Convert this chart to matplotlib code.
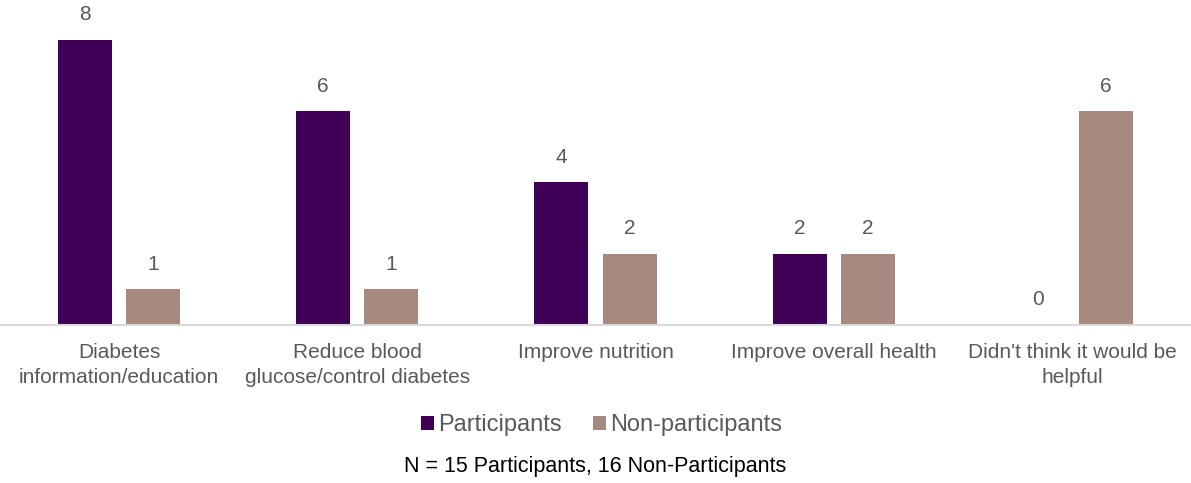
import matplotlib.pyplot as plt
import numpy as np

plt.rcParams['font.family'] = ['Liberation Sans', 'DejaVu Sans']

kategorier = ['Diabetes\ninformation/education',
              'Reduce blood\nglucose/control diabetes',
              'Improve nutrition',
              'Improve overall health',
              "Didn't think it would be\nhelpful"]
deltakere = [8, 6, 4, 2, 0]
ikke_deltakere = [1, 1, 2, 2, 6]

lilla = '#400058'
brun = '#A78A7F'
grå_tekst = '#595959'

fig = plt.figure(figsize=(11.91, 4.83), dpi=100)
ax = fig.add_axes([0, 0.327, 1, 0.673])

x = np.arange(len(kategorier))
bredde = 0.227
avstand = 0.143

b1 = ax.bar(x - avstand, deltakere, bredde, color=lilla, label='Participants')
b2 = ax.bar(x + avstand, ikke_deltakere, bredde, color=brun, label='Non-participants')

# Verdier over søylene
for stolper, verdier in ((b1, deltakere), (b2, ikke_deltakere)):
    for s, v in zip(stolper, verdier):
        ax.text(s.get_x() + s.get_width() / 2, v + 0.44, str(v),
                ha='center', va='bottom', fontsize=15, color=grå_tekst)

ax.set_xlim(-0.5, len(kategorier) - 0.5)
ax.set_ylim(0, 9.12)
ax.set_yticks([])
ax.set_xticks(x)
ax.set_xticklabels(kategorier, fontsize=15, color=grå_tekst, linespacing=1.38)
ax.tick_params(axis='x', length=0, pad=13)
for side in ['top', 'right', 'left']:
    ax.spines[side].set_visible(False)
ax.spines['bottom'].set_color('#D9D9D9')
ax.spines['bottom'].set_linewidth(1.5)

leg = fig.legend(loc='center', bbox_to_anchor=(0.505, 0.12), ncol=2, frameon=False,
                 fontsize=17, handlelength=0.55, handleheight=0.55, handletextpad=0.15,
                 columnspacing=1.35)
for t in leg.get_texts():
    t.set_color(grå_tekst)

fig.text(0.5, 0.035, 'N = 15 Participants, 16 Non-Participants',
         ha='center', va='center', fontsize=15.5, color='black')

plt.savefig('out.png', dpi=100)
